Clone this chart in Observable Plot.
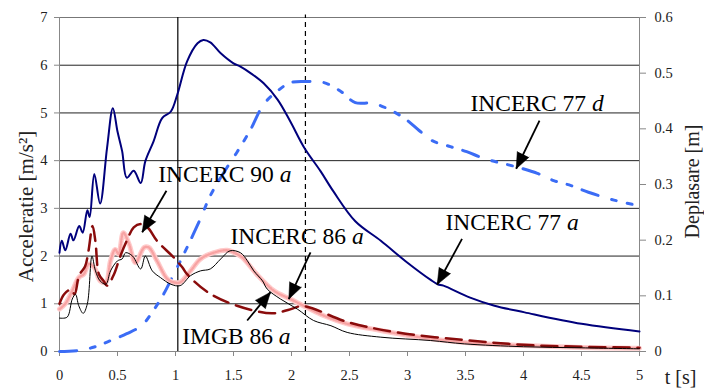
<!DOCTYPE html>
<html><head><meta charset="utf-8">
<script src="https://cdn.jsdelivr.net/npm/d3@7"></script>
<script src="https://cdn.jsdelivr.net/npm/@observablehq/plot@0.6"></script>
<style>body{margin:0;background:#fff}svg{display:block}svg text{font-family:'Liberation Serif','DejaVu Serif',serif}</style>
</head><body><div id="chart"></div>
<script>
// ---- data ----
const xTicks = [0,0.5,1,1.5,2,2.5,3,3.5,4,4.5,5];
const accTicks = [0,1,2,3,4,5,6,7];
const dispTicks = [0,0.1,0.2,0.3,0.4,0.5,0.6];

// INCERC 77 a (acceleration, m/s2)
const t77a = [0,0.02,0.05,0.095,0.12,0.17,0.2,0.24,0.26,0.3,0.35,0.41,0.46,0.5,0.54,0.58,0.64,0.70,0.74,0.81,0.885,0.96,1.015,1.10,1.19,1.24,1.30,1.39,1.50,1.56,1.65,1.76,1.88,1.99,2.11,2.25,2.36,2.55,2.77,3.0,3.2,3.26,3.31,3.54,3.75,4.01,4.5,5.0];
const a77a = [2.07,2.32,2.12,2.47,2.33,2.63,2.49,2.96,2.82,3.72,3.1,4.27,5.1,4.61,4.2,3.64,3.79,3.53,3.99,4.4,4.89,5.03,5.38,6.08,6.46,6.53,6.48,6.25,6.04,5.97,5.83,5.62,5.28,4.82,4.27,3.78,3.36,2.73,2.32,1.86,1.5,1.41,1.38,1.13,0.96,0.82,0.58,0.42];

// INCERC 77 d (displacement, m)
const t77d = [0,0.17,0.3,0.41,0.58,0.71,0.81,0.9,0.985,1.1,1.22,1.3,1.445,1.53,1.65,1.76,1.88,1.99,2.135,2.28,2.42,2.55,2.70,2.85,2.98,3.10,3.21,3.37,3.51,3.67,3.95,4.12,4.26,4.41,4.56,4.78,4.99];
const d77d = [0,0.002,0.008,0.017,0.032,0.047,0.074,0.104,0.139,0.187,0.241,0.28,0.331,0.358,0.40,0.444,0.468,0.483,0.485,0.483,0.468,0.447,0.446,0.434,0.418,0.397,0.379,0.368,0.359,0.346,0.331,0.32,0.307,0.298,0.286,0.272,0.262];

// INCERC 90 a
const t90a = [0,0.04,0.1,0.13,0.17,0.22,0.25,0.285,0.31,0.34,0.38,0.41,0.47,0.52,0.58,0.64,0.70,0.76,0.84,0.985,1.06,1.10,1.28,1.53,1.83,1.97,2.1,2.48,2.91,3.49,4.0,4.5,5.0];
const a90a = [1.0,1.2,1.3,1.2,1.6,1.78,2.11,2.63,2.3,1.62,1.48,1.38,1.62,1.97,2.32,2.6,2.67,2.6,2.32,1.97,1.76,1.62,1.24,0.96,0.8,0.87,0.95,0.62,0.4,0.24,0.14,0.1,0.08];

// INCERC 86 a
const t86a = [0,0.05,0.11,0.166,0.21,0.25,0.3,0.35,0.40,0.44,0.48,0.51,0.55,0.6,0.655,0.73,0.77,0.84,0.93,0.985,1.04,1.13,1.216,1.33,1.445,1.56,1.59,1.70,1.85,1.99,2.135,2.28,2.48,2.77,3.05,3.49,4.0,4.5,5.0];
const a86a = [0.89,1.0,1.27,1.55,1.62,1.83,1.76,1.48,1.45,1.9,2.14,2.04,2.49,2.25,1.86,2.18,2.18,1.9,1.52,1.45,1.45,1.69,1.94,2.07,2.12,2.0,1.94,1.62,1.27,1.1,0.92,0.75,0.58,0.44,0.32,0.19,0.125,0.085,0.07];

// IMGB 86 a
const tImgb = [0,0.066,0.11,0.138,0.166,0.204,0.24,0.28,0.31,0.35,0.40,0.44,0.50,0.54,0.57,0.63,0.70,0.74,0.80,0.87,0.96,1.04,1.13,1.216,1.30,1.39,1.47,1.56,1.62,1.675,1.75,1.79,1.905,2.05,2.19,2.34,2.48,2.77,3.2,3.49,4.0,4.5,5.0];
const aImgb = [0.7,0.72,1.1,1.2,0.96,0.8,1.0,2.0,1.69,1.48,1.41,1.69,1.9,1.94,2.07,2.0,1.73,2.0,1.69,1.55,1.41,1.38,1.59,1.69,1.73,1.94,2.11,2.07,1.9,1.69,1.48,1.31,1.1,0.89,0.65,0.54,0.40,0.30,0.23,0.16,0.10,0.077,0.056];

// annotation labels and arrows (data coordinates, acceleration axis)
const labels = ["INCERC 90 a","INCERC 86 a","IMGB 86 a","INCERC 77 a","INCERC 77 d"];
const labelT = [0.851,1.474,1.058,3.328,3.543];
const labelA = [3.553,2.253,0.147,2.536,5.05];
const arrowT1 = [0.922,2.164,1.618,3.47,4.138];
const arrowA1 = [3.37,2.08,0.65,2.36,4.84];
const arrowT2 = [0.713,1.977,1.819,3.256,3.937];
const arrowA2 = [2.50,1.10,1.243,1.404,3.83];
const vLines = [1.02, 2.12];

// ---- build ----
const W = 704, H = 389, mL = 59, mR = 65, mT = 17, mB = 38;
const K = 7 / 0.6; // displacement -> acceleration axis
const zip = (t, v) => t.map((x, i) => ({t: x, v: v[i]}));
const s77a = zip(t77a, a77a), s77d = zip(t77d, d77d.map(d => d * K)),
      s90a = zip(t90a, a90a), s86a = zip(t86a, a86a), sImgb = zip(tImgb, aImgb);
const kx = (W - mL - mR) / 5, ky = (H - mT - mB) / 7;
const arrows = labels.map((l, i) => ({
  x1: arrowT1[i], y1: arrowA1[i], x2: arrowT2[i], y2: arrowA2[i],
  ang: Math.atan2((arrowT2[i] - arrowT1[i]) * kx, (arrowA2[i] - arrowA1[i]) * ky) * 180 / Math.PI
}));
const ann = labels.map((l, i) => ({text: l, t: labelT[i], a: labelA[i]}));
const FONT = "'Liberation Serif', 'DejaVu Serif', serif";

const chart = Plot.plot({
  width: W, height: H, marginLeft: mL, marginRight: mR, marginTop: mT, marginBottom: mB,
  x: {domain: [0, 5]}, y: {domain: [0, 7]},
  style: {fontFamily: FONT, fontSize: "14.5px", background: "white", color: "#222"},
  marks: [
    Plot.ruleY(accTicks.filter(d => d > 0 && d < 7), {stroke: "#222", strokeWidth: 1}),
    Plot.ruleY([7], {stroke: "#777", strokeWidth: 1}),
    Plot.ruleY([0], {stroke: "#888"}),
    Plot.ruleX([0, 5], {stroke: "#888"}),
    Plot.ruleX([vLines[0]], {stroke: "black", strokeWidth: 1.2}),
    Plot.ruleX([vLines[1]], {stroke: "black", strokeWidth: 1.2, strokeDasharray: "5,4", y2: 7.05}),
    Plot.axisX({ticks: xTicks, tickSize: 5, tickPadding: 13, label: null, stroke: "#888", fill: "#222", fontFamily: FONT, fontSize: 14.5, tickFormat: d => String(d)}),
    Plot.axisY({anchor: "left", ticks: accTicks, tickSize: 5, tickPadding: 7, label: null, stroke: "#888", fill: "#222", fontFamily: FONT, fontSize: 14.5, tickFormat: d => String(d)}),
    Plot.axisY({anchor: "right", ticks: dispTicks.map(d => d * K), tickSize: 6, tickPadding: 9, label: null, stroke: "#888", fill: "#222", fontFamily: FONT, fontSize: 14.5,
      tickFormat: v => { const d = Math.round(v / K * 10) / 10; return d === 0 ? "0" : d.toFixed(1); }}),
    Plot.line(s77d, {x: "t", y: "v", stroke: "#3b6cf5", strokeWidth: 3, strokeDasharray: "17,14,5,11,5,11", curve: "catmull-rom"}),
    Plot.line(s86a, {x: "t", y: "v", stroke: "#ffcaca", strokeWidth: 5, curve: "catmull-rom"}),
    Plot.line(s86a, {x: "t", y: "v", stroke: "#f7a3a3", strokeWidth: 2.4, strokeDasharray: "1,1.6", curve: "catmull-rom"}),
    Plot.line(s90a, {x: "t", y: "v", stroke: "#8a0c0c", strokeWidth: 2.5, strokeDasharray: "16,8", curve: "catmull-rom"}),
    Plot.line(sImgb, {x: "t", y: "v", stroke: "black", strokeWidth: 1, curve: "catmull-rom"}),
    Plot.line(s77a, {x: "t", y: "v", stroke: "#00007c", strokeWidth: 2, curve: "catmull-rom"}),
    Plot.link(arrows, {x1: "x1", y1: "y1", x2: "x2", y2: "y2", stroke: "black", strokeWidth: 1.8}),
    Plot.vector(arrows, {x: "x2", y: "y2", rotate: "ang", length: 16, r: 6.5, shape: "spike", anchor: "end", fill: "black", stroke: "black", strokeWidth: 0.5}),
    Plot.text(ann, {x: "t", y: "a", text: "text", textAnchor: "start", lineAnchor: "bottom", fontSize: 23.5, fontFamily: FONT, fill: "black"}),
    Plot.text(["Acceleratie [m/s²]"], {frameAnchor: "left", rotate: -90, textAnchor: "middle", lineAnchor: "middle", dx: -33, dy: 22, fontSize: 21, fontFamily: FONT, fill: "#222"}),
    Plot.text(["Deplasare [m]"], {frameAnchor: "right", rotate: -90, textAnchor: "middle", lineAnchor: "middle", dx: 53, dy: -3, fontSize: 20, fontFamily: FONT, fill: "#222"}),
    Plot.text(["t [s]"], {frameAnchor: "bottom-right", textAnchor: "middle", lineAnchor: "bottom", dx: 41, dy: 32, fontSize: 20, fontFamily: FONT, fill: "#222"})
  ]
});

// italicise the last word of each series label
d3.select(chart).selectAll("text").each(function() {
  const s = this.textContent;
  if (!/^(INCERC|IMGB)/.test(s)) return;
  const i = s.lastIndexOf(" ");
  this.textContent = "";
  d3.select(this).append("tspan").text(s.slice(0, i) + "\u00a0");
  d3.select(this).append("tspan").attr("font-style", "italic").text(s.slice(i + 1));
});

document.getElementById("chart").appendChild(chart);
</script>
</body></html>
